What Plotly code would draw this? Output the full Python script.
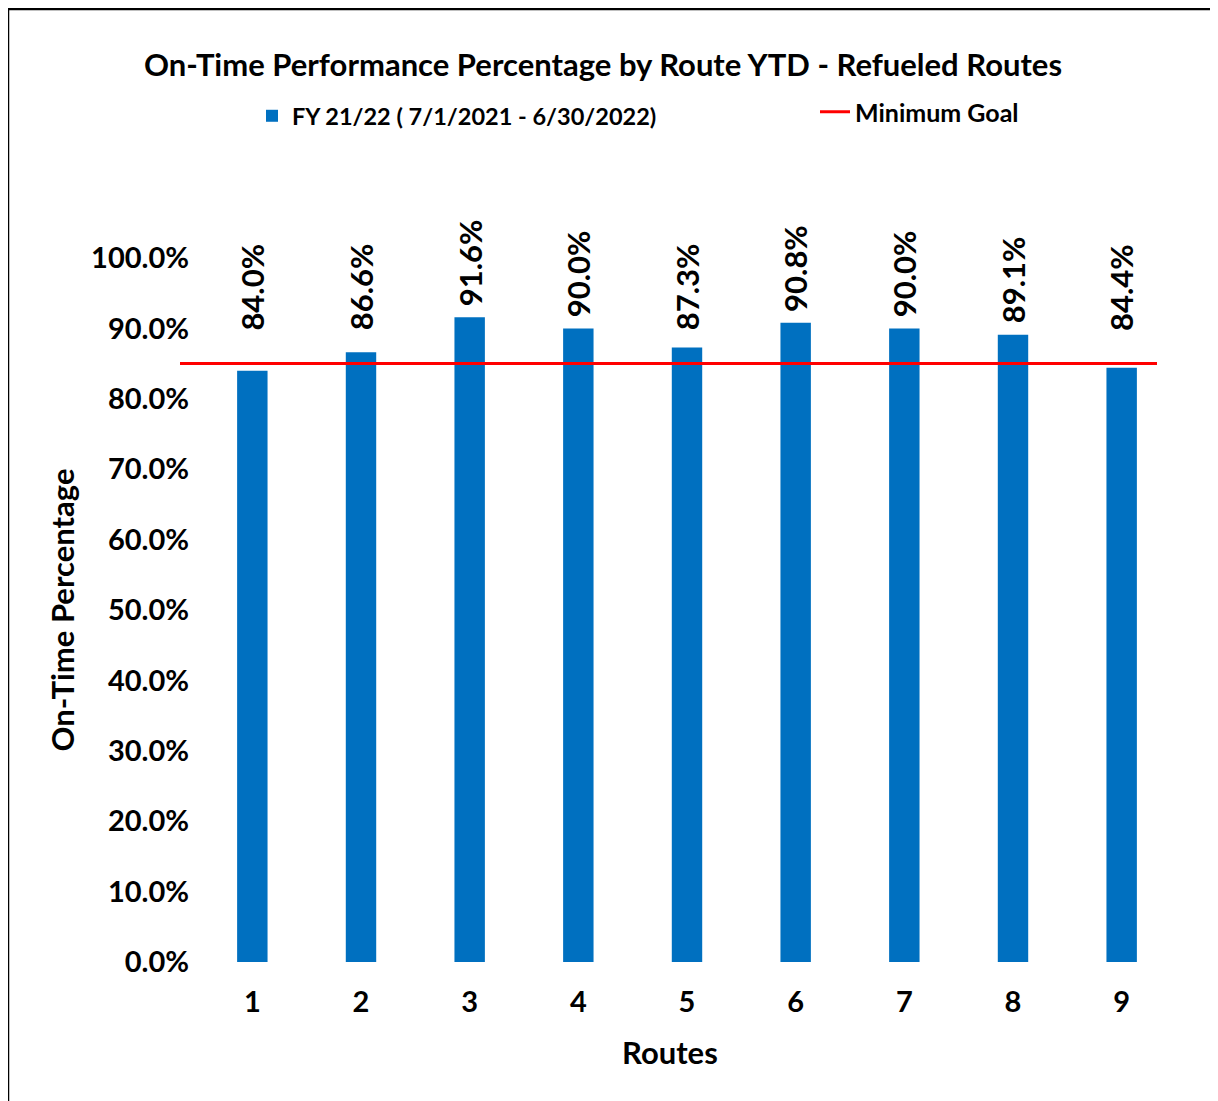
import plotly.graph_objects as go

# data
routes = [1, 2, 3, 4, 5, 6, 7, 8, 9]
on_time = [0.840, 0.866, 0.916, 0.900, 0.873, 0.908, 0.900, 0.891, 0.844]
minimum_goal = 0.85
y_ticks = [0.0, 0.1, 0.2, 0.3, 0.4, 0.5, 0.6, 0.7, 0.8, 0.9, 1.0]

bar_name = "FY 21/22 ( 7/1/2021 - 6/30/2022)"
goal_name = "Minimum Goal"

FONT = "Lato"
BLUE = "#0070C0"
RED = "#FF0000"

# the page body adds an 8px offset, so lay out in screen pixels and shift
OFF = 8
W, H = 1218 - OFF, 1101 - OFF
L, R, T, B = 170 - OFF, 42, 258 - OFF, 139
pw = W - L - R
ph = H - T - B


def px_x(p):
    # screen x pixel -> paper fraction
    return (p - OFF - L) / pw


def px_y(p):
    # screen y pixel -> paper fraction
    return (H - B - (p - OFF)) / ph


def cont_x(p):
    return (p - OFF) / W


def cont_y(p):
    return 1 - (p - OFF) / H


fig = go.Figure()

fig.add_trace(go.Bar(
    x=routes,
    y=on_time,
    name=bar_name,
    marker_color=BLUE,
    marker_line_width=0,
    width=0.28,
    legend="legend",
    showlegend=True,
))

# goal line drawn on its own (hidden) x axis so it can run past the outer bars
fig.add_trace(go.Scatter(
    x=[0, 1],
    y=[minimum_goal, minimum_goal],
    mode="lines",
    name=goal_name,
    line=dict(color=RED, width=3),
    xaxis="x2",
    yaxis="y",
    legend="legend2",
    showlegend=True,
))

# data labels, kept clear of the goal line like the original
label_floor = 0.881
for r, v in zip(routes, on_time):
    fig.add_annotation(
        x=r, y=max(v, label_floor), xref="x", yref="y",
        text=f"{v * 100:.1f}%",
        textangle=-90, showarrow=False,
        yanchor="bottom", yshift=9,
        font=dict(family=FONT, size=31, color="black", weight="bold"),
    )

# x axis title sits a little left of the plot centre in the original
fig.add_annotation(
    x=px_x(670), y=px_y(1052), xref="paper", yref="paper",
    text="Routes", showarrow=False,
    xanchor="center", yanchor="middle",
    font=dict(family=FONT, size=31, color="black", weight="bold"),
)

fig.add_shape(
    type="rect", xref="paper", yref="paper",
    x0=px_x(8), x1=px_x(1230), y0=px_y(1115), y1=px_y(9),
    line=dict(color="black", width=2.5), fillcolor="rgba(0,0,0,0)",
    layer="above",
)

fig.update_layout(
    width=W, height=H,
    margin=dict(l=L, r=R, t=T, b=B),
    paper_bgcolor="white",
    plot_bgcolor="rgba(0,0,0,0)",
    font=dict(family=FONT, color="black"),
    showlegend=True,
    title=dict(
        text="<b>On-Time Performance Percentage by Route YTD - Refueled Routes</b>",
        x=cont_x(603), xref="container", xanchor="center",
        y=cont_y(65), yref="container", yanchor="middle",
        font=dict(family=FONT, size=31, color="black"),
    ),
    xaxis=dict(
        domain=[px_x(198), 1],
        range=[0.5, 9.5],
        tickmode="array", tickvals=routes, ticktext=[str(r) for r in routes],
        showgrid=False, showline=False, zeroline=False, ticks="",
        ticklabelstandoff=20,
        tickfont=dict(family=FONT, size=29, weight="bold"),
        automargin=False,
    ),
    xaxis2=dict(
        domain=[px_x(180), px_x(1157)],
        range=[0, 1],
        anchor="y",
        visible=False,
    ),
    yaxis=dict(
        range=[0, 1],
        tickmode="array", tickvals=y_ticks,
        tickformat=".1%",
        showgrid=False, showline=False, zeroline=False, ticks="",
        ticklabelstandoff=8,
        tickfont=dict(family=FONT, size=29, weight="bold"),
        title=dict(text="On-Time Percentage", standoff=7,
                   font=dict(family=FONT, size=31, weight="bold")),
        automargin=False,
    ),
    legend=dict(
        orientation="h",
        x=cont_x(252), xref="container", xanchor="left",
        y=cont_y(116), yref="container", yanchor="middle",
        font=dict(family=FONT, size=23.5, weight="bold"),
        bgcolor="rgba(0,0,0,0)",
    ),
    legend2=dict(
        orientation="h",
        x=cont_x(815), xref="container", xanchor="left",
        y=cont_y(112), yref="container", yanchor="middle",
        font=dict(family=FONT, size=25, weight="bold"),
        bgcolor="rgba(0,0,0,0)",
    ),
)

fig.write_html("out.html")
